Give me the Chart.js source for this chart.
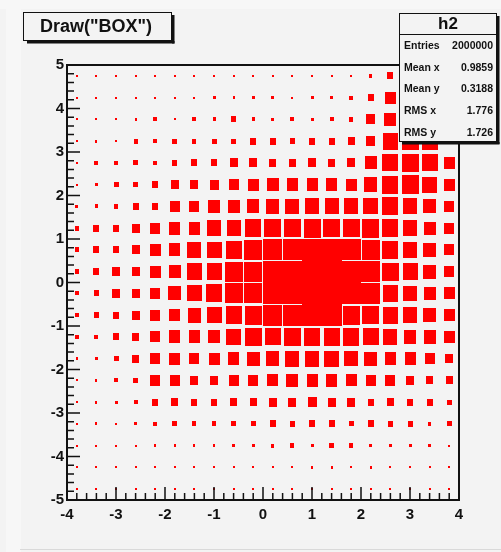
<!DOCTYPE html>
<html>
<head>
<meta charset="utf-8">
<script src="https://cdn.jsdelivr.net/npm/chart.js@4.4.1/dist/chart.umd.min.js"></script>
<style>
  html, body { margin: 0; padding: 0; background: #f3f3f3; }
  canvas { display: block; }
</style>
</head>
<body>
<canvas id="boxChart" width="501" height="552"></canvas>
<script>
// bin centres (x bins 0.4 wide, y bins 0.5 wide)
var xCenters = [-3.8, -3.4, -3.0, -2.6, -2.2, -1.8, -1.4, -1.0, -0.6, -0.2,
                 0.2, 0.6, 1.0, 1.4, 1.8, 2.2, 2.6, 3.0, 3.4, 3.8];
var yCenters = [4.75, 4.25, 3.75, 3.25, 2.75, 2.25, 1.75, 1.25, 0.75, 0.25,
                -0.25, -0.75, -1.25, -1.75, -2.25, -2.75, -3.25, -3.75, -4.25, -4.75];
var binW = 0.4, binH = 0.5;

// relative bin content (1 = fullest bin), one row per y bin, top to bottom
var binContent = [
  [0.05,0.05,0.05,0.05,0.05,0.05,0.05,0.05,0.05,0.05,0.05,0.05,0.05,0.05,0.05,0.17,0.33,0.40,0.35,0.20],
  [0.05,0.05,0.05,0.05,0.05,0.05,0.10,0.15,0.12,0.15,0.15,0.10,0.15,0.15,0.20,0.30,0.54,0.60,0.50,0.30],
  [0.07,0.07,0.07,0.12,0.20,0.10,0.20,0.17,0.26,0.17,0.16,0.20,0.15,0.20,0.22,0.48,0.60,0.75,0.65,0.35],
  [0.05,0.12,0.06,0.22,0.20,0.24,0.22,0.24,0.24,0.32,0.30,0.26,0.30,0.30,0.35,0.48,0.78,0.85,0.82,0.25],
  [0.08,0.18,0.18,0.25,0.20,0.28,0.32,0.30,0.40,0.40,0.38,0.38,0.40,0.38,0.40,0.62,0.80,0.85,0.80,0.55],
  [0.06,0.15,0.25,0.25,0.33,0.40,0.43,0.45,0.52,0.55,0.60,0.58,0.58,0.58,0.55,0.68,0.82,0.87,0.75,0.55],
  [0.15,0.17,0.22,0.30,0.32,0.50,0.50,0.62,0.60,0.63,0.68,0.70,0.72,0.72,0.72,0.75,0.82,0.72,0.65,0.50],
  [0.22,0.30,0.30,0.42,0.50,0.58,0.58,0.72,0.72,0.82,0.85,0.85,0.86,0.85,0.85,0.86,0.82,0.72,0.62,0.50],
  [0.22,0.33,0.33,0.42,0.55,0.58,0.72,0.75,0.82,0.90,0.97,0.97,1.00,1.00,0.95,0.90,0.82,0.72,0.65,0.52],
  [0.22,0.33,0.40,0.42,0.55,0.62,0.78,0.78,0.92,0.90,1.00,1.00,1.00,1.00,0.98,0.97,0.85,0.78,0.65,0.52],
  [0.20,0.28,0.40,0.40,0.50,0.65,0.75,0.82,0.92,0.90,1.00,1.00,1.00,1.00,1.00,0.95,0.77,0.70,0.60,0.56],
  [0.20,0.28,0.32,0.40,0.52,0.55,0.68,0.75,0.82,0.88,0.97,0.97,1.00,1.00,0.88,0.85,0.78,0.72,0.65,0.55],
  [0.20,0.20,0.30,0.38,0.50,0.58,0.58,0.62,0.75,0.85,0.80,0.85,0.82,0.82,0.82,0.80,0.72,0.63,0.63,0.55],
  [0.12,0.15,0.25,0.35,0.52,0.55,0.50,0.55,0.58,0.64,0.67,0.73,0.73,0.75,0.70,0.65,0.58,0.58,0.50,0.42],
  [0.08,0.12,0.20,0.25,0.50,0.50,0.43,0.43,0.52,0.50,0.56,0.60,0.58,0.58,0.56,0.50,0.50,0.41,0.35,0.36],
  [0.05,0.12,0.15,0.20,0.33,0.35,0.30,0.30,0.35,0.35,0.40,0.40,0.44,0.41,0.40,0.33,0.38,0.33,0.30,0.24],
  [0.05,0.12,0.10,0.15,0.20,0.25,0.22,0.22,0.25,0.25,0.32,0.26,0.33,0.32,0.24,0.30,0.26,0.26,0.17,0.24],
  [0.05,0.06,0.06,0.10,0.12,0.12,0.12,0.12,0.15,0.15,0.17,0.22,0.15,0.24,0.22,0.15,0.15,0.15,0.13,0.08],
  [0.04,0.05,0.05,0.06,0.06,0.05,0.05,0.06,0.05,0.08,0.10,0.06,0.12,0.12,0.06,0.12,0.06,0.06,0.10,0.05],
  [0.04,0.04,0.04,0.04,0.04,0.04,0.04,0.04,0.04,0.04,0.04,0.04,0.04,0.04,0.04,0.04,0.04,0.04,0.04,0.04]
];

var histTitle = 'Draw("BOX")';
var statName = 'h2';
var statLabels = ['Entries', 'Mean x', 'Mean y', 'RMS x', 'RMS y'];
var statValues = ['2000000', '0.9859', '0.3188', '1.776', '1.726'];

var points = [];
for (var j = 0; j < yCenters.length; j++) {
  for (var i = 0; i < xCenters.length; i++) {
    points.push({ x: xCenters[i], y: yCenters[j], v: binContent[j][i] });
  }
}

// one little red canvas per box size, drawn as the point style
var boxCache = {};
function boxImage(w, h) {
  var key = w + 'x' + h;
  if (!boxCache[key]) {
    var c = document.createElement('canvas');
    c.width = w; c.height = h;
    var g = c.getContext('2d');
    g.fillStyle = '#ff0000';
    g.fillRect(0, 0, w, h);
    boxCache[key] = c;
  }
  return boxCache[key];
}

function boxStyle(ctx) {
  var p = ctx.raw;
  if (!p || !ctx.chart.scales.x) return 'rect';
  var xs = ctx.chart.scales.x, ys = ctx.chart.scales.y;
  var cw = Math.abs(xs.getPixelForValue(binW) - xs.getPixelForValue(0));
  var ch = Math.abs(ys.getPixelForValue(binH) - ys.getPixelForValue(0));
  var w = Math.max(2, Math.round(p.v * cw));
  var h = Math.max(2, Math.round(p.v * ch));
  return boxImage(w, h);
}

var rootPad = {
  id: 'rootPad',
  beforeDraw: function(chart) {
    var c = chart.ctx;
    c.save();
    c.fillStyle = '#f3f3f3';
    c.fillRect(0, 0, chart.width, chart.height);
    c.fillStyle = '#f7f7f7';
    c.fillRect(6, 0, 15, chart.height);
    c.fillRect(0, 0, chart.width, 9);
    c.fillStyle = '#d9d9d9';
    c.fillRect(20, 549, chart.width - 20, 1);
    c.restore();
  },
  afterDraw: function(chart) {
    var c = chart.ctx, a = chart.chartArea;
    var xs = chart.scales.x, ys = chart.scales.y;
    c.save();
    c.strokeStyle = '#111';
    c.lineWidth = 1.5;
    c.beginPath();
    for (var k = -20; k <= 20; k++) {
      var px = xs.getPixelForValue(k / 5);
      var len = (k % 5 === 0) ? 13 : 7;
      c.moveTo(px, a.bottom);
      c.lineTo(px, a.bottom - len);
    }
    for (var m = -25; m <= 25; m++) {
      var py = ys.getPixelForValue(m / 5);
      var l2 = (m % 5 === 0) ? 13 : 7;
      c.moveTo(a.left, py);
      c.lineTo(a.left + l2, py);
    }
    c.stroke();
    c.lineWidth = 2;
    c.strokeRect(a.left, a.top, a.right - a.left, a.bottom - a.top);

    // title box
    c.fillStyle = '#111';
    c.fillRect(172, 15, 2.5, 28.5);
    c.fillRect(27, 41, 147.5, 2.5);
    c.fillStyle = '#f3f3f3';
    c.fillRect(23, 12, 149, 29);
    c.lineWidth = 1;
    c.strokeStyle = '#111';
    c.strokeRect(23.5, 12.5, 148, 28);
    c.fillStyle = '#111';
    c.font = 'bold 18px "Liberation Sans", Arial, sans-serif';
    c.textAlign = 'center';
    c.textBaseline = 'middle';
    c.fillText(histTitle, 96, 27);

    // stats box
    c.fillStyle = '#111';
    c.fillRect(497, 16, 2.5, 128);
    c.fillRect(402, 142, 97.5, 2.5);
    c.fillStyle = '#f3f3f3';
    c.fillRect(399, 13, 98, 129);
    c.strokeRect(399.5, 13.5, 97, 128);
    c.beginPath();
    c.moveTo(399, 34.5);
    c.lineTo(497, 34.5);
    c.stroke();
    c.fillStyle = '#111';
    c.font = 'bold 17px "Liberation Sans", Arial, sans-serif';
    c.fillText(statName, 448, 24);
    c.font = 'bold 10.5px "Liberation Sans", Arial, sans-serif';
    for (var s = 0; s < statLabels.length; s++) {
      var ty = 46 + s * 21.7;
      c.textAlign = 'left';
      c.fillText(statLabels[s], 404, ty);
      c.textAlign = 'right';
      c.fillText(statValues[s], 493, ty);
    }
    c.restore();
  }
};

var tickFont = { family: '"Liberation Sans", Arial, sans-serif', size: 15, weight: 'bold' };

new Chart(document.getElementById('boxChart').getContext('2d'), {
  type: 'scatter',
  data: {
    datasets: [{
      data: points,
      pointStyle: boxStyle,
      pointRadius: 4,
      borderWidth: 0
    }]
  },
  options: {
    responsive: false,
    animation: false,
    events: [],
    layout: { padding: { left: 0, right: 42, top: 65, bottom: 0 } },
    plugins: { legend: { display: false }, tooltip: { enabled: false } },
    scales: {
      x: {
        type: 'linear', min: -4, max: 4,
        grid: { display: false, drawTicks: false },
        border: { display: false },
        ticks: { stepSize: 1, color: '#111', font: tickFont, padding: 6, maxRotation: 0 },
        afterFit: function(scale) { scale.height = 52; }
      },
      y: {
        type: 'linear', min: -5, max: 5,
        grid: { display: false, drawTicks: false },
        border: { display: false },
        ticks: { stepSize: 1, color: '#111', font: tickFont, padding: 3 },
        afterFit: function(scale) { scale.width = 67; }
      }
    }
  },
  plugins: [rootPad]
});
</script>
</body>
</html>
